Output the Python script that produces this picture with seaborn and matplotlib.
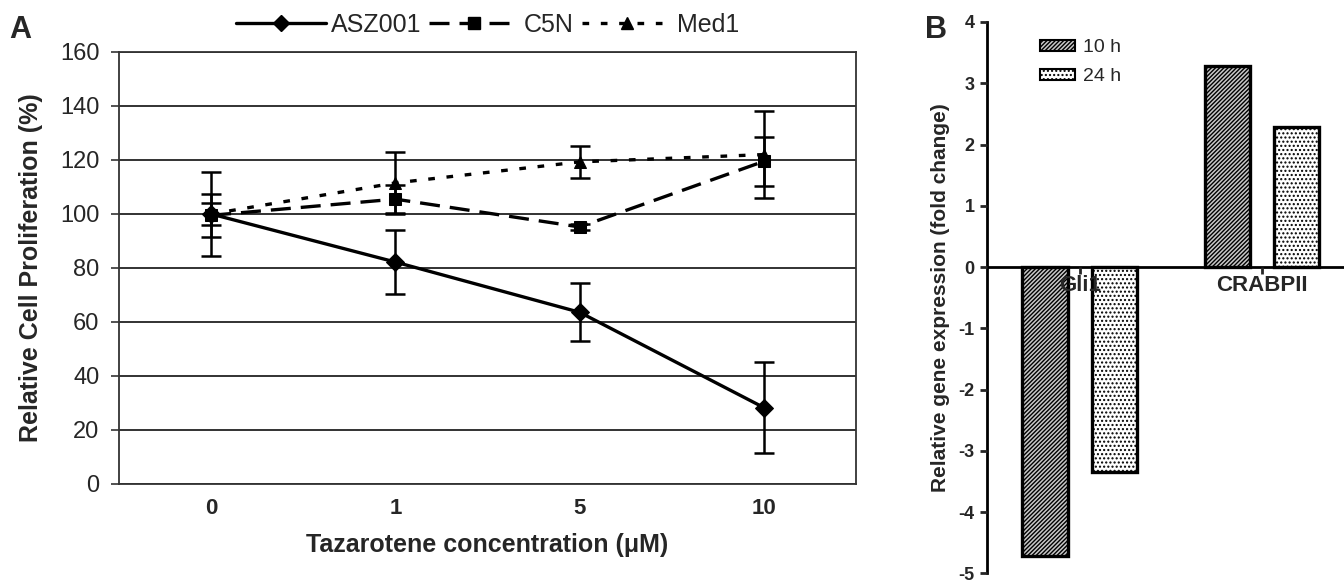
import matplotlib
matplotlib.use("Agg")
import matplotlib.pyplot as plt
import matplotlib.patches as mpatches
from matplotlib.lines import Line2D
import pandas as pd
import seaborn as sns

# Panel A: relative cell proliferation vs tazarotene concentration
conc_labels = ["0", "1", "5", "10"]
asz001 = [100, 82.2, 63.6, 28.3]
asz001_err = [15.6, 12.0, 10.8, 16.9]
c5n = [99.5, 105.5, 95.2, 119.5]
c5n_err = [8.0, 5.2, 1.0, 9.0]
med1 = [100, 111.5, 119.3, 122.0]
med1_err = [4.0, 11.5, 6.0, 16.0]
series_names = ["ASZ001", "C5N", "Med1"]

# Panel B: relative gene expression
genes = ["Gli1", "CRABPII"]
times = ["10 h", "24 h"]
expr_10h = [-4.72, 3.28]
expr_24h = [-3.35, 2.28]

sns.set_style("white")
plt.rcParams["font.family"] = ["Liberation Sans", "DejaVu Sans"]
plt.rcParams["hatch.linewidth"] = 1.0
plt.rcParams["axes.unicode_minus"] = False

fig = plt.figure(figsize=(13.44, 5.82), dpi=100)
ax_a = fig.add_axes([0.0885, 0.1684, 0.5484, 0.7423])
ax_b = fig.add_axes([0.7344, 0.0150, 0.2656, 0.9472])

# long-form table for the line chart
rows = []
for name, vals, errs in zip(series_names, [asz001, c5n, med1], [asz001_err, c5n_err, med1_err]):
    for i, (v, e) in enumerate(zip(vals, errs)):
        rows.append({"pos": i, "line": name, "value": v, "err": e})
df = pd.DataFrame(rows)

dash_map = {"ASZ001": "", "C5N": (6, 3), "Med1": (2, 3.5)}
marker_map = {"ASZ001": "D", "C5N": "s", "Med1": "^"}

# gridlines first so they stay under the lines
ax_a.set_ylim(0, 160)
ax_a.set_yticks(range(0, 161, 20))
ax_a.yaxis.grid(True, color="#222222", linewidth=1.3)
ax_a.set_axisbelow(True)

ax_a.errorbar(df["pos"], df["value"], yerr=df["err"], fmt="none", ecolor="black",
              elinewidth=1.8, capsize=7, capthick=1.8, zorder=3)
sns.lineplot(data=df, x="pos", y="value", hue="line", style="line",
             palette=["black"] * 3, dashes=dash_map, markers=marker_map,
             markersize=9, markeredgecolor="black", linewidth=2.4,
             legend=False, ax=ax_a, zorder=4)

ax_a.set_xlim(-0.5, 3.5)
ax_a.set_xticks(range(len(conc_labels)))
ax_a.set_xticklabels(conc_labels, fontsize=16, fontweight="bold")
ax_a.set_xticks([-0.5, 0.5, 1.5, 2.5, 3.5], minor=True)
ax_a.tick_params(axis="x", which="major", length=0, pad=10)
ax_a.tick_params(axis="x", which="minor", length=6, width=1.2, direction="out", color="#333333")
ax_a.tick_params(axis="y", length=6, width=1.2, direction="out", left=True, pad=8, labelsize=17, color="#333333")
for s in ax_a.spines.values():
    s.set_color("#333333")
    s.set_linewidth(1.3)
ax_a.set_xlabel("Tazarotene concentration (\u03bcM)", fontsize=18, fontweight="bold", labelpad=10)
ax_a.set_ylabel("Relative Cell Proliferation (%)", fontsize=18, fontweight="bold", labelpad=12)

handles = [Line2D([], [], color="black", linewidth=2.4, linestyle="-", marker="D", markersize=8),
           Line2D([], [], color="black", linewidth=2.4, dashes=dash_map["C5N"], marker="s", markersize=8),
           Line2D([], [], color="black", linewidth=2.4, dashes=dash_map["Med1"], marker="^", markersize=8)]
ax_a.legend(handles, series_names, loc="lower center", bbox_to_anchor=(0.5, 1.0), ncol=3,
            frameon=False, fontsize=18, handlelength=3.6, columnspacing=0.3, handletextpad=0.2,
            borderaxespad=0.2)
fig.text(0.007, 0.975, "A", fontsize=22, fontweight="bold", va="top")

# Panel B bars
gdf = pd.DataFrame({"gene": genes * 2,
                    "time": [times[0]] * 2 + [times[1]] * 2,
                    "value": expr_10h + expr_24h})
sns.barplot(data=gdf, x="gene", y="value", hue="time", palette=["#c8c8c8", "white"],
            width=0.76, gap=0.34, edgecolor="black", linewidth=2.4, legend=False, ax=ax_b)
hatches = ["////////", "...."]
for cont, h in zip(ax_b.containers, hatches):
    for bar in cont:
        bar.set_hatch(h)
ax_b.set_axisbelow(False)

ax_b.set_xlim(-0.51, 1.45)
ax_b.set_ylim(-5, 4)
ax_b.set_yticks(range(-5, 5))
ax_b.spines["top"].set_visible(False)
ax_b.spines["right"].set_visible(False)
ax_b.spines["bottom"].set_position(("data", 0))
ax_b.spines["bottom"].set_linewidth(2)
ax_b.spines["left"].set_linewidth(2)
ax_b.spines["bottom"].set_color("black")
ax_b.spines["left"].set_color("black")
ax_b.tick_params(axis="y", length=5, width=2, direction="out", left=True, pad=4)
ax_b.tick_params(axis="x", length=5, width=2, direction="out", bottom=True, pad=1)
for lab in ax_b.get_yticklabels():
    lab.set_fontweight("bold")
    lab.set_fontsize(13)
for lab in ax_b.get_xticklabels():
    lab.set_fontweight("bold")
    lab.set_fontsize(16)
ax_b.set_xlabel("")
ax_b.set_ylabel("Relative gene expression (fold change)", fontsize=15, fontweight="bold", labelpad=6)

leg_handles = [mpatches.Patch(facecolor=c, edgecolor="black", hatch=h, linewidth=1.5)
               for c, h in zip(["#c8c8c8", "white"], hatches)]
ax_b.legend(leg_handles, times, loc="upper left", bbox_to_anchor=(0.1, 1.0), frameon=False,
            fontsize=14, handlelength=1.8, handleheight=0.5, handletextpad=0.4, labelspacing=0.6)
fig.text(0.688, 0.975, "B", fontsize=22, fontweight="bold", va="top")

fig.savefig("out.png", dpi=100)
